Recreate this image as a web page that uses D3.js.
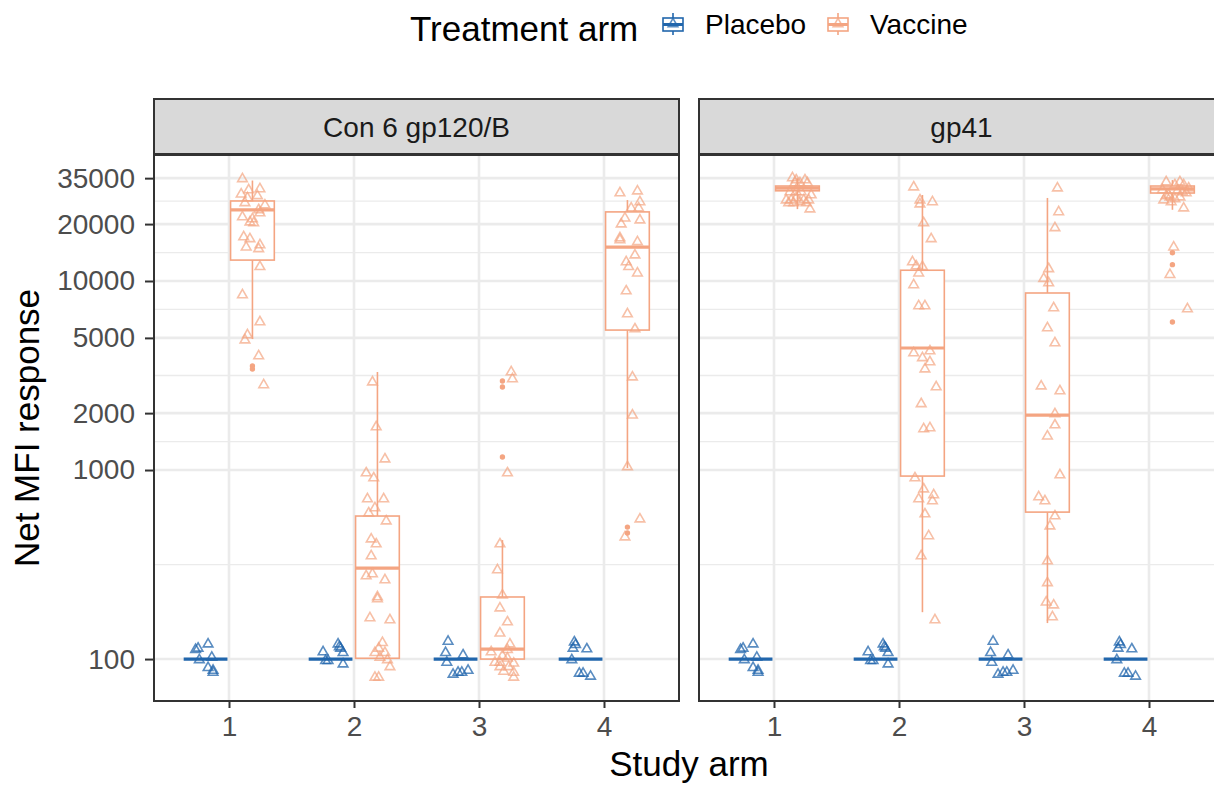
<!DOCTYPE html>
<html>
<head>
<meta charset="utf-8">
<script src="https://cdn.jsdelivr.net/npm/d3@7"></script>
<style>
  body { margin: 0; background: #fff; }
  text { font-family: "Liberation Sans", Arial, sans-serif; }
</style>
</head>
<body>
<svg id="chart" width="1214" height="786"></svg>
<script>
const studyArms = ["1", "2", "3", "4"];
const antigens = ["Con 6 gp120/B", "gp41"];
const treatmentArms = ["Placebo", "Vaccine"];
const yTickValues = [100, 1000, 2000, 5000, 10000, 20000, 35000];

// placebo responses sit at the floor (100) in both antigens, jittered
const placeboValues = [
  [112, 114, 120, 99, 102, 90, 87, 85],
  [109, 120, 116, 114, 108, 98, 98, 94],
  [124, 108, 105, 96, 83, 85, 85, 87],
  [123, 119, 114, 113, 99, 84, 84, 81]
];
const placeboJitter = [
  [-0.08, -0.06, 0.02, -0.05, 0.05, 0.02, 0.06, 0.06],
  [-0.06, 0.06, 0.07, 0.08, 0.10, -0.04, -0.02, 0.10],
  [-0.06, -0.08, 0.06, -0.07, -0.02, 0.02, 0.05, 0.10],
  [-0.05, -0.04, -0.06, 0.05, -0.07, -0.01, 0.02, 0.08]
];
// [lower whisker, q1, median, q3, upper whisker]
const placeboBox = [
  [100, 100, 100, 100, 100],
  [100, 100, 100, 100, 100],
  [100, 100, 100, 100, 100],
  [100, 100, 100, 100, 100]
];

// Con 6 gp120/B vaccine
const gp120Values = [
  [34700, 30300, 30700, 28800, 28200, 27500, 25200, 25900, 23800, 22900, 21800, 21300, 20500,
   20300, 17100, 16700, 15100, 15500, 14800, 11900, 8430, 6070, 5180, 4870, 4010, 2820],
  [2920, 1690, 1143, 964, 907, 703, 703, 630, 592, 537, 431, 406, 351, 275, 282, 262, 213, 208,
   165, 161, 122, 114, 108, 108, 102, 99, 91, 80, 80],
  [3300, 3030, 964, 406, 296, 218, 186, 157, 137, 120, 109, 112, 104, 101, 96, 96, 95, 91, 91,
   86, 85, 80],
  [29200, 29900, 26200, 24300, 24300, 21500, 20000, 21000, 16900, 16500, 16100, 13700, 12600,
   11900, 11000, 8850, 6690, 5570, 3100, 1950, 1040, 550, 442]
];
const gp120Jitter = [
  [-0.08, -0.03, 0.06, -0.09, 0.04, -0.04, 0.10, -0.06, 0.05, 0.06, -0.08, 0, -0.02,
   0.01, -0.07, -0.02, -0.05, 0.06, 0.05, 0.06, -0.08, 0.06, -0.04, -0.06, 0.05, 0.09],
  [-0.04, -0.01, 0.06, -0.09, -0.03, -0.08, 0.05, -0.02, -0.07, 0.07, -0.05, -0.01, -0.05, -0.09,
   -0.04, 0.06, 0, 0, -0.06, 0.10, 0.04, 0.01, -0.02, 0.06, 0.02, 0.08, 0.10, -0.02, 0.01],
  [0.07, 0.08, 0.04, -0.02, -0.04, 0, -0.02, 0.04, -0.02, 0.06, -0.09, 0.04, 0, 0.04, -0.06,
   -0.02, 0.09, -0.02, 0.05, 0.01, 0.09, 0.09],
  [-0.06, 0.08, 0.10, 0.03, 0.09, -0.02, -0.05, 0.10, -0.06, -0.06, 0.08, 0.06, -0.01,
   0.01, 0.08, -0.01, 0, 0.06, 0.04, 0.04, 0, 0.10, -0.02]
];
const gp120Box = [
  [4930, 12900, 23800, 26500, 34000],
  [100, 101, 303, 571, 3300],
  [100, 100, 113, 213, 426],
  [1025, 5500, 15100, 23200, 26800]
];
const gp120Outliers = [[3550, 3420], [], [2960, 2750, 1172], [499, 464]];

// gp41 vaccine
const gp41Values = [
  [35100, 34200, 34200, 33000, 33000, 33000, 29600, 29600, 29600, 28500, 26800, 26800, 27500,
   26800, 26800, 25900, 25900, 26200, 25900, 24000],
  [31400, 26800, 25500, 26200, 20300, 16700, 12600, 12000, 11900, 11000, 9530, 7380, 7380, 4160,
   3920, 4260, 3730, 3420, 2750, 2240, 1650, 1670, 907, 793, 703, 738, 686, 585, 448, 351, 161],
  [31000, 23200, 19100, 11600, 10300, 9760, 7200, 5640, 4700, 2780, 2620, 1980, 1730, 1510, 941,
   720, 686, 571, 505, 330, 253, 200, 193, 167],
  [33400, 32200, 33400, 32200, 28200, 26200, 27200, 27800, 29200, 24300, 27800, 15100, 10800,
   7110, 30300, 30000, 31000, 26800, 29600, 28500]
];
const gp41Jitter = [
  [-0.04, -0.01, 0.06, -0.02, 0.02, 0.08, -0.06, -0.01, 0.03, 0.11, -0.09, -0.05, -0.01,
   0.05, 0.09, -0.07, -0.03, 0.02, 0.07, 0.10],
  [-0.07, -0.02, -0.02, 0.08, 0.01, 0.07, -0.08, -0.05, 0, -0.03, -0.07, -0.03, 0.02, -0.07,
   0, 0.06, 0.06, 0.02, 0.11, -0.01, 0.01, 0.06, -0.06, 0.01, -0.03, 0.09, 0.08, 0.02, 0.05, -0.01, 0.10],
  [0.08, 0.09, 0.06, 0.01, -0.03, 0.01, 0.05, 0, 0.06, -0.05, 0.10, 0.06, 0.06, 0, 0.10,
   -0.07, -0.02, 0.06, 0.02, 0, 0, -0.01, 0.05, 0.04],
  [-0.05, 0.02, 0.06, 0.09, -0.05, -0.01, 0.02, 0.06, 0.11, 0.09, -0.02, 0.01, -0.02,
   0.12, -0.08, 0.04, 0.13, -0.07, 0.08, -0.03]
];
const gp41Box = [
  [24000, 30000, 31000, 31800, 35000],
  [177, 929, 4420, 11400, 28500],
  [155, 599, 1950, 8640, 27500],
  [23800, 29200, 30700, 31800, 34200]
];
const gp41Outliers = [[], [], [], [14100, 12200, 6070]];

const armColors = { Placebo: "#2166AC", Vaccine: "#F4A582" };

// layout
const panelTop = 155, panelBottom = 701, stripTop = 99, panelWidth = 525;
const panelLefts = [154, 699];
const dodge = 0.1875, boxWidth = 0.35;

const svg = d3.select("#chart");

const y = d3.scaleLog().domain([60, 46400]).range([panelBottom, panelTop]);

// minor breaks: midpoints in log space between major breaks
const minorTicks = [];
for (let i = 0; i < yTickValues.length - 1; i++) {
  minorTicks.push(Math.sqrt(yTickValues[i] * yTickValues[i + 1]));
}

const panelData = [
  { antigen: antigens[0], values: gp120Values, jitter: gp120Jitter, box: gp120Box, outliers: gp120Outliers },
  { antigen: antigens[1], values: gp41Values, jitter: gp41Jitter, box: gp41Box, outliers: gp41Outliers }
];

const tri = d3.symbol().type(d3.symbolTriangle).size(40);

function drawBox(g, cx, half, stats, color) {
  let [lo, q1, med, q3, hi] = stats;
  g.append("line").attr("x1", cx).attr("x2", cx).attr("y1", y(q3)).attr("y2", y(hi))
    .attr("stroke", color).attr("stroke-width", 1.6);
  g.append("line").attr("x1", cx).attr("x2", cx).attr("y1", y(q1)).attr("y2", y(lo))
    .attr("stroke", color).attr("stroke-width", 1.6);
  g.append("rect")
    .attr("x", cx - half).attr("width", half * 2)
    .attr("y", y(q3)).attr("height", Math.max(0, y(q1) - y(q3)))
    .attr("fill", "white").attr("stroke", color).attr("stroke-width", 1.6);
  g.append("line").attr("x1", cx - half).attr("x2", cx + half)
    .attr("y1", y(med)).attr("y2", y(med))
    .attr("stroke", color).attr("stroke-width", 3.2);
}

panelData.forEach((p, pi) => {
  const left = panelLefts[pi];
  const x = d3.scalePoint().domain(studyArms).range([left, left + panelWidth]).padding(0.6);
  const step = x.step();
  const g = svg.append("g");

  g.append("rect").attr("x", left).attr("y", panelTop)
    .attr("width", panelWidth).attr("height", panelBottom - panelTop).attr("fill", "white");

  // grid
  g.selectAll(".minor").data(minorTicks).enter().append("line")
    .attr("x1", left).attr("x2", left + panelWidth)
    .attr("y1", d => y(d)).attr("y2", d => y(d))
    .attr("stroke", "#EBEBEB").attr("stroke-width", 1.3);
  g.selectAll(".majorY").data(yTickValues).enter().append("line")
    .attr("x1", left).attr("x2", left + panelWidth)
    .attr("y1", d => y(d)).attr("y2", d => y(d))
    .attr("stroke", "#EBEBEB").attr("stroke-width", 2.6);
  g.selectAll(".majorX").data(studyArms).enter().append("line")
    .attr("x1", d => x(d)).attr("x2", d => x(d))
    .attr("y1", panelTop).attr("y2", panelBottom)
    .attr("stroke", "#EBEBEB").attr("stroke-width", 2.6);

  // boxplots
  studyArms.forEach((arm, i) => {
    const cP = x(arm) - dodge * step;
    const cV = x(arm) + dodge * step;
    drawBox(g, cP, boxWidth * step / 2, placeboBox[i], armColors.Placebo);
    drawBox(g, cV, boxWidth * step / 2, p.box[i], armColors.Vaccine);
    g.selectAll(null).data(p.outliers[i]).enter().append("circle")
      .attr("cx", cV).attr("cy", d => y(d)).attr("r", 2.7)
      .attr("fill", armColors.Vaccine);
  });

  // jittered points
  studyArms.forEach((arm, i) => {
    const cP = x(arm) - dodge * step;
    const cV = x(arm) + dodge * step;
    g.selectAll(null).data(placeboValues[i]).enter().append("path")
      .attr("d", tri)
      .attr("transform", (d, j) => `translate(${cP + placeboJitter[i][j] * step},${y(d)})`)
      .attr("fill", "none").attr("stroke", armColors.Placebo)
      .attr("stroke-width", 1.6).attr("stroke-opacity", 0.75);
    g.selectAll(null).data(p.values[i]).enter().append("path")
      .attr("d", tri)
      .attr("transform", (d, j) => `translate(${cV + p.jitter[i][j] * step},${y(d)})`)
      .attr("fill", "none").attr("stroke", armColors.Vaccine)
      .attr("stroke-width", 1.6).attr("stroke-opacity", 0.7);
  });

  // panel border
  g.append("rect").attr("x", left).attr("y", panelTop)
    .attr("width", panelWidth).attr("height", panelBottom - panelTop)
    .attr("fill", "none").attr("stroke", "#333333").attr("stroke-width", 2);

  // strip
  g.append("rect").attr("x", left).attr("y", stripTop)
    .attr("width", panelWidth).attr("height", panelTop - stripTop - 1)
    .attr("fill", "#D9D9D9").attr("stroke", "#333333").attr("stroke-width", 2);
  g.append("text")
    .attr("x", left + panelWidth / 2).attr("y", (stripTop + panelTop) / 2)
    .attr("dy", "0.35em").attr("text-anchor", "middle")
    .attr("font-size", 28).attr("fill", "#1A1A1A")
    .text(p.antigen);

  // x axis
  const xAxis = g.append("g").attr("transform", `translate(0,${panelBottom})`)
    .call(d3.axisBottom(x).tickSize(7).tickPadding(8));
  xAxis.select(".domain").remove();
  xAxis.selectAll(".tick line").attr("stroke", "#333333").attr("stroke-width", 2);
  xAxis.selectAll(".tick text").attr("font-size", 28).attr("fill", "#4D4D4D")
    .attr("font-family", "Liberation Sans, Arial, sans-serif");

  if (pi === 0) {
    const yAxis = g.append("g").attr("transform", `translate(${left},0)`)
      .call(d3.axisLeft(y).tickValues(yTickValues).tickFormat(d3.format("d")).tickSize(9).tickPadding(10));
    yAxis.select(".domain").remove();
    yAxis.selectAll(".tick line").attr("stroke", "#333333").attr("stroke-width", 2);
    yAxis.selectAll(".tick text").attr("font-size", 28).attr("fill", "#4D4D4D")
      .attr("font-family", "Liberation Sans, Arial, sans-serif");
  }
});

// axis titles
svg.append("text")
  .attr("x", (panelLefts[0] + panelLefts[1] + panelWidth) / 2).attr("y", 776)
  .attr("text-anchor", "middle").attr("font-size", 35).attr("fill", "#000")
  .text("Study arm");
svg.append("text")
  .attr("transform", `translate(39,${(panelTop + panelBottom) / 2}) rotate(-90)`)
  .attr("text-anchor", "middle").attr("font-size", 35).attr("fill", "#000")
  .text("Net MFI response");

// legend
const legend = svg.append("g");
legend.append("text").attr("x", 410).attr("y", 41).attr("font-size", 35).attr("fill", "#000")
  .text("Treatment arm");
const keyX = [663, 828];
treatmentArms.forEach((arm, i) => {
  const kx = keyX[i], color = armColors[arm];
  const k = legend.append("g");
  k.append("line").attr("x1", kx + 10).attr("x2", kx + 10).attr("y1", 13).attr("y2", 35)
    .attr("stroke", color).attr("stroke-width", 1.6);
  k.append("rect").attr("x", kx).attr("y", 18).attr("width", 20).attr("height", 13)
    .attr("fill", "white").attr("stroke", color).attr("stroke-width", 1.6);
  k.append("line").attr("x1", kx).attr("x2", kx + 20).attr("y1", 24.5).attr("y2", 24.5)
    .attr("stroke", color).attr("stroke-width", 3);
  k.append("path").attr("d", tri).attr("transform", `translate(${kx + 10},24)`)
    .attr("fill", "none").attr("stroke", color).attr("stroke-width", 1.6).attr("stroke-opacity", 0.75);
  legend.append("text").attr("x", kx + 42).attr("y", 34).attr("font-size", 28).attr("fill", "#000")
    .text(arm);
});
</script>
</body>
</html>
